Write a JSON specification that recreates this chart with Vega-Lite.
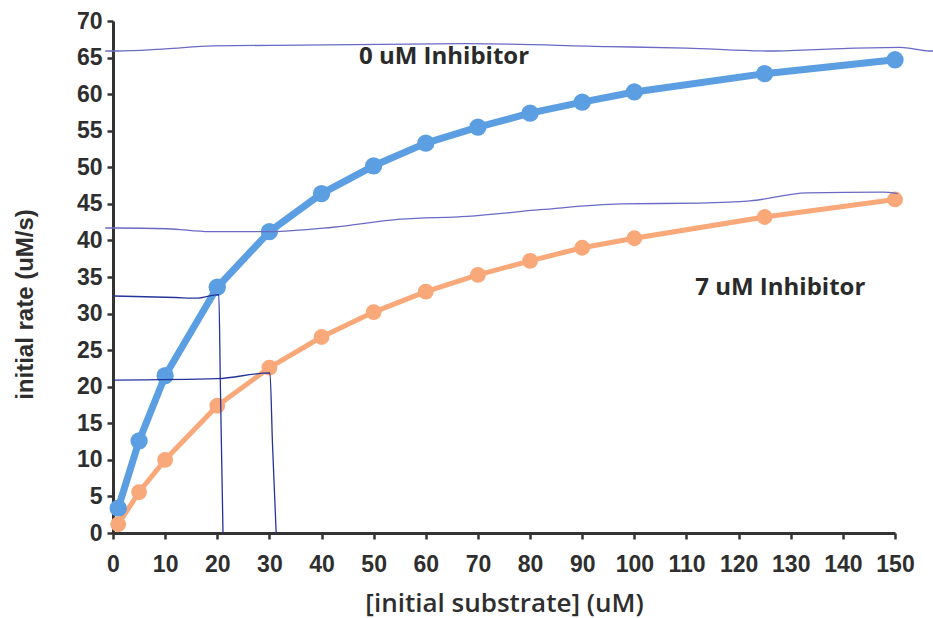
{
  "$schema": "https://vega.github.io/schema/vega-lite/v6.json",
  "width": 782,
  "height": 512,
  "autosize": "none",
  "padding": {"left": 113, "top": 21, "right": 38, "bottom": 85},
  "background": "white",
  "config": {
    "view": {"stroke": null},
    "axis": {
      "grid": false,
      "domainColor": "#333333",
      "domainWidth": 3,
      "tickColor": "#333333",
      "tickWidth": 2.5,
      "tickSize": 6,
      "labelFont": "Liberation Sans",
      "labelFontSize": 23,
      "labelFontWeight": "bold",
      "labelColor": "#2e2e2e",
      "labelOverlap": false,
      "labelFlush": false,
      "titleColor": "#2e2e2e"
    }
  },
  "datasets": {
    "series": [
      {"s": 1, "series": "0 uM", "rate": 3.4},
      {"s": 5, "series": "0 uM", "rate": 12.6},
      {"s": 10, "series": "0 uM", "rate": 21.5},
      {"s": 20, "series": "0 uM", "rate": 33.6},
      {"s": 30, "series": "0 uM", "rate": 41.2},
      {"s": 40, "series": "0 uM", "rate": 46.4},
      {"s": 50, "series": "0 uM", "rate": 50.2},
      {"s": 60, "series": "0 uM", "rate": 53.3},
      {"s": 70, "series": "0 uM", "rate": 55.5},
      {"s": 80, "series": "0 uM", "rate": 57.4},
      {"s": 90, "series": "0 uM", "rate": 58.9},
      {"s": 100, "series": "0 uM", "rate": 60.3},
      {"s": 125, "series": "0 uM", "rate": 62.8},
      {"s": 150, "series": "0 uM", "rate": 64.7},
      {"s": 1, "series": "7 uM", "rate": 1.2},
      {"s": 5, "series": "7 uM", "rate": 5.6},
      {"s": 10, "series": "7 uM", "rate": 10.0},
      {"s": 20, "series": "7 uM", "rate": 17.4},
      {"s": 30, "series": "7 uM", "rate": 22.6},
      {"s": 40, "series": "7 uM", "rate": 26.8},
      {"s": 50, "series": "7 uM", "rate": 30.2},
      {"s": 60, "series": "7 uM", "rate": 33.0},
      {"s": 70, "series": "7 uM", "rate": 35.3},
      {"s": 80, "series": "7 uM", "rate": 37.2},
      {"s": 90, "series": "7 uM", "rate": 39.0},
      {"s": 100, "series": "7 uM", "rate": 40.3},
      {"s": 125, "series": "7 uM", "rate": 43.2},
      {"s": 150, "series": "7 uM", "rate": 45.6}
    ],
    "sketch": [
      {"path": "top", "ord": 1, "x": -1.5, "y": 65.9},
      {"path": "top", "ord": 2, "x": 0.8, "y": 65.9},
      {"path": "top", "ord": 3, "x": 10, "y": 66.2},
      {"path": "top", "ord": 4, "x": 19.2, "y": 66.6},
      {"path": "top", "ord": 5, "x": 35.9, "y": 66.7},
      {"path": "top", "ord": 6, "x": 67.9, "y": 66.9},
      {"path": "top", "ord": 7, "x": 95, "y": 66.5},
      {"path": "top", "ord": 8, "x": 110, "y": 66.3},
      {"path": "top", "ord": 9, "x": 125.5, "y": 65.9},
      {"path": "top", "ord": 10, "x": 138.1, "y": 66.2},
      {"path": "top", "ord": 11, "x": 151, "y": 66.4},
      {"path": "top", "ord": 12, "x": 156.7, "y": 65.9},
      {"path": "top", "ord": 13, "x": 158, "y": 65.9},
      {"path": "mid", "ord": 1, "x": -1.5, "y": 41.7},
      {"path": "mid", "ord": 2, "x": 0.8, "y": 41.7},
      {"path": "mid", "ord": 3, "x": 10.4, "y": 41.6},
      {"path": "mid", "ord": 4, "x": 18.6, "y": 41.2},
      {"path": "mid", "ord": 5, "x": 30.1, "y": 41.2},
      {"path": "mid", "ord": 6, "x": 42.2, "y": 41.8},
      {"path": "mid", "ord": 7, "x": 55.1, "y": 42.9},
      {"path": "mid", "ord": 8, "x": 67.9, "y": 43.3},
      {"path": "mid", "ord": 9, "x": 82, "y": 44.2},
      {"path": "mid", "ord": 10, "x": 97.3, "y": 45.0},
      {"path": "mid", "ord": 11, "x": 112.6, "y": 45.1},
      {"path": "mid", "ord": 12, "x": 122.2, "y": 45.4},
      {"path": "mid", "ord": 13, "x": 133.1, "y": 46.5},
      {"path": "mid", "ord": 14, "x": 147.7, "y": 46.6},
      {"path": "mid", "ord": 15, "x": 150.5, "y": 46.4},
      {"path": "c20", "ord": 1, "x": 0.2, "y": 32.4},
      {"path": "c20", "ord": 2, "x": 12, "y": 32.2},
      {"path": "c20", "ord": 3, "x": 16, "y": 32.1},
      {"path": "c20", "ord": 4, "x": 20.3, "y": 32.6},
      {"path": "c20", "ord": 5, "x": 20.6, "y": 20},
      {"path": "c20", "ord": 6, "x": 20.9, "y": 8},
      {"path": "c20", "ord": 7, "x": 21.1, "y": 0},
      {"path": "c30", "ord": 1, "x": 0.2, "y": 20.9},
      {"path": "c30", "ord": 2, "x": 20, "y": 21.1},
      {"path": "c30", "ord": 3, "x": 30.1, "y": 21.9},
      {"path": "c30", "ord": 4, "x": 30.6, "y": 12},
      {"path": "c30", "ord": 5, "x": 31.3, "y": 0}
    ],
    "labels": [
      {"label": "0 uM Inhibitor", "x": 63.5, "y": 65.1},
      {"label": "7 uM Inhibitor", "x": 128, "y": 33.5}
    ]
  },
  "layer": [
    {
      "data": {"name": "series"},
      "mark": {"type": "line", "strokeCap": "round", "strokeJoin": "round"},
      "encoding": {
        "x": {
          "field": "s", "type": "quantitative",
          "scale": {"domain": [0, 150], "nice": false},
          "axis": {
            "values": [0, 10, 20, 30, 40, 50, 60, 70, 80, 90, 100, 110, 120, 130, 140, 150],
            "labelPadding": 14,
            "labelOverlap": false,
            "labelFlush": false,
            "title": "[initial substrate] (uM)",
            "titleFont": "Open Sans",
            "titleFontSize": 26,
            "titleFontWeight": 600,
            "titleBaseline": "alphabetic",
            "titleY": 78,
            "encode": {"ticks": {"update": {"y": {"value": -6}, "y2": {"value": 6}}}}
          }
        },
        "y": {
          "field": "rate", "type": "quantitative",
          "scale": {"domain": [0, 70], "nice": false},
          "axis": {
            "values": [0, 5, 10, 15, 20, 25, 30, 35, 40, 45, 50, 55, 60, 65, 70],
            "tickCount": 15,
            "labelPadding": 5,
            "labelOverlap": false,
            "labelFlush": false,
            "title": "initial rate (uM/s)",
            "titleFont": "Liberation Sans",
            "titleFontSize": 24,
            "titleFontWeight": "bold",
            "titleAngle": 270,
            "titleBaseline": "alphabetic",
            "titleAlign": "center",
            "titleX": -81,
            "titleY": 283,
            "encode": {"ticks": {"update": {"x": {"value": 6}, "x2": {"value": -6}}}}
          }
        },
        "color": {
          "field": "series", "type": "nominal",
          "scale": {"domain": ["0 uM", "7 uM"], "range": ["#5b9ee2", "#f8a879"]},
          "legend": null
        },
        "strokeWidth": {
          "field": "series", "type": "nominal",
          "scale": {"domain": ["0 uM", "7 uM"], "range": [7, 5]},
          "legend": null
        },
        "order": {"field": "s", "type": "quantitative"}
      }
    },
    {
      "data": {"name": "series"},
      "mark": {"type": "circle", "opacity": 1},
      "encoding": {
        "x": {"field": "s", "type": "quantitative"},
        "y": {"field": "rate", "type": "quantitative"},
        "color": {"field": "series", "type": "nominal", "legend": null},
        "size": {
          "field": "series", "type": "nominal",
          "scale": {"domain": ["0 uM", "7 uM"], "range": [300, 250]},
          "legend": null
        }
      }
    },
    {
      "data": {"name": "sketch"},
      "mark": {"type": "line", "interpolate": "monotone", "strokeJoin": "round"},
      "encoding": {
        "x": {"field": "x", "type": "quantitative"},
        "y": {"field": "y", "type": "quantitative"},
        "detail": {"field": "path", "type": "nominal"},
        "order": {"field": "ord", "type": "quantitative"},
        "stroke": {
          "field": "path", "type": "nominal",
          "scale": {"domain": ["top", "mid", "c20", "c30"], "range": ["#6a6ac4", "#6a6ac4", "#25349a", "#25349a"]},
          "legend": null
        },
        "strokeWidth": {
          "field": "path", "type": "nominal",
          "scale": {"domain": ["top", "mid", "c20", "c30"], "range": [1.3, 1.3, 1.6, 1.6]},
          "legend": null
        }
      }
    },
    {
      "data": {"name": "labels"},
      "mark": {"type": "text", "font": "Open Sans", "fontSize": 24, "fontWeight": "bold", "color": "#2a2a2a", "align": "center", "baseline": "middle"},
      "encoding": {
        "x": {"field": "x", "type": "quantitative"},
        "y": {"field": "y", "type": "quantitative"},
        "text": {"field": "label", "type": "nominal"}
      }
    }
  ],
  "resolve": {"scale": {"strokeWidth": "independent"}}
}
